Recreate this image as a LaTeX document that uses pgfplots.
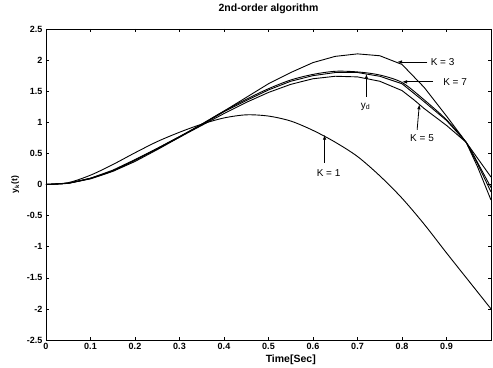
\documentclass[border=0pt]{standalone}
\usepackage{fontspec}
\setmainfont{Liberation Sans}
\usepackage{pgfplots}
\pgfplotsset{compat=1.18}
\usetikzlibrary{arrows.meta}
\begin{document}
\begin{tikzpicture}
\begin{axis}[
  scale only axis, width=445pt, height=311pt,
  xmin=0, xmax=1, ymin=-2.5, ymax=2.5,
  xtick={0,0.1,0.2,0.3,0.4,0.5,0.6,0.7,0.8,0.9},
  xticklabels={0,0.1,0.2,0.3,0.4,0.5,0.6,0.7,0.8,0.9},
  ytick={-2.5,-2,-1.5,-1,-0.5,0,0.5,1,1.5,2,2.5},
  yticklabels={-2.5,-2,-1.5,-1,-0.5,0,0.5,1,1.5,2,2.5},
  tick align=inside, major tick length=3pt,
  tick style={black, thin},
  axis line style={black, line width=0.8pt},
  ticklabel style={font=\fontsize{9}{10}\selectfont\bfseries},
  title={2nd-order algorithm},
  title style={font=\fontsize{10.5}{11}\selectfont\bfseries, at={(axis description cs:0.5,1)}, anchor=south, yshift=6pt},
  xlabel={Time[Sec]},
  xlabel style={font=\fontsize{10.5}{11}\selectfont\bfseries, at={(axis description cs:0.55,0)}, anchor=north, yshift=-11pt},
  ylabel={y\textsubscript{k}(t)},
  ylabel style={font=\fontsize{8.5}{9}\selectfont\bfseries, at={(axis description cs:-0.069,0.5)}, anchor=center},
  cycle list={{black, smooth, no markers}},
  every axis plot/.append style={line width=0.9pt},
  clip=true,
]
% y_d
\addplot coordinates {(0,0) (0.05,0.02) (0.1,0.1) (0.15,0.23) (0.2,0.4) (0.25,0.58) (0.3,0.77) (0.35,0.96) (0.4,1.17) (0.45,1.35) (0.5,1.52) (0.55,1.66) (0.6,1.75) (0.65,1.8) (0.7,1.8) (0.75,1.74) (0.8,1.62) (0.845,1.36) (0.9,1.03) (0.944,0.68) (0.97,0.33) (1.0,-0.12)};
% K=7
\addplot coordinates {(0,0) (0.05,0.02) (0.1,0.1) (0.15,0.22) (0.2,0.39) (0.25,0.58) (0.3,0.77) (0.35,0.97) (0.4,1.18) (0.45,1.37) (0.5,1.54) (0.55,1.68) (0.6,1.77) (0.65,1.82) (0.7,1.81) (0.75,1.76) (0.8,1.64) (0.85,1.36) (0.9,1.04) (0.944,0.68) (0.97,0.35) (1.0,-0.05)};
% K=5
\addplot coordinates {(0,0) (0.05,0.02) (0.1,0.1) (0.15,0.22) (0.2,0.39) (0.25,0.57) (0.3,0.76) (0.35,0.95) (0.4,1.14) (0.45,1.32) (0.5,1.48) (0.55,1.61) (0.6,1.7) (0.65,1.74) (0.7,1.73) (0.75,1.66) (0.8,1.51) (0.827,1.36) (0.85,1.22) (0.9,0.95) (0.944,0.68) (0.97,0.42) (1.0,0.12)};
% K=3
\addplot coordinates {(0,0) (0.05,0.02) (0.1,0.09) (0.15,0.21) (0.2,0.37) (0.25,0.56) (0.3,0.76) (0.35,0.97) (0.4,1.18) (0.45,1.4) (0.5,1.62) (0.55,1.8) (0.6,1.96) (0.65,2.06) (0.7,2.1) (0.75,2.07) (0.8,1.93) (0.85,1.56) (0.9,1.1) (0.944,0.68) (0.97,0.28) (1.0,-0.25)};
% K=1
\addplot coordinates {(0,0) (0.05,0.03) (0.1,0.15) (0.15,0.32) (0.2,0.51) (0.25,0.69) (0.3,0.84) (0.35,0.97) (0.4,1.07) (0.45,1.12) (0.5,1.1) (0.55,1.02) (0.6,0.87) (0.65,0.68) (0.7,0.45) (0.75,0.14) (0.8,-0.22) (0.85,-0.64) (0.9,-1.1) (0.95,-1.55) (1.0,-2.0)};
% annotations
\draw[-{Latex[length=5pt,width=3.5pt]}, line width=0.8pt] (axis cs:0.857,1.97) -- (axis cs:0.789,1.97);
\node[anchor=west, inner sep=1pt, font=\fontsize{10}{12}\selectfont] at (axis cs:0.862,1.97) {K = 3};
\draw[-{Latex[length=5pt,width=3.5pt]}, line width=0.8pt] (axis cs:0.870,1.65) -- (axis cs:0.800,1.65);
\node[anchor=west, inner sep=1pt, font=\fontsize{10}{12}\selectfont] at (axis cs:0.890,1.65) {K = 7};
\draw[-{Latex[length=5pt,width=3.5pt]}, line width=0.8pt] (axis cs:0.720,1.41) -- (axis cs:0.720,1.78);
\node[font=\fontsize{10}{12}\selectfont] at (axis cs:0.718,1.25) {y\textsubscript{d}};
\draw[-{Latex[length=5pt,width=3.5pt]}, line width=0.8pt] (axis cs:0.834,0.88) -- (axis cs:0.839,1.29);
\node[font=\fontsize{10}{12}\selectfont] at (axis cs:0.845,0.75) {K = 5};
\draw[-{Latex[length=5pt,width=3.5pt]}, line width=0.8pt] (axis cs:0.626,0.35) -- (axis cs:0.626,0.80);
\node[font=\fontsize{10}{12}\selectfont] at (axis cs:0.635,0.18) {K = 1};
\end{axis}
\pgfresetboundingbox
\path ([xshift=-46pt,yshift=-28pt]current axis.south west) rectangle ([xshift=2pt,yshift=29pt]current axis.north east);
\end{tikzpicture}
\end{document}
